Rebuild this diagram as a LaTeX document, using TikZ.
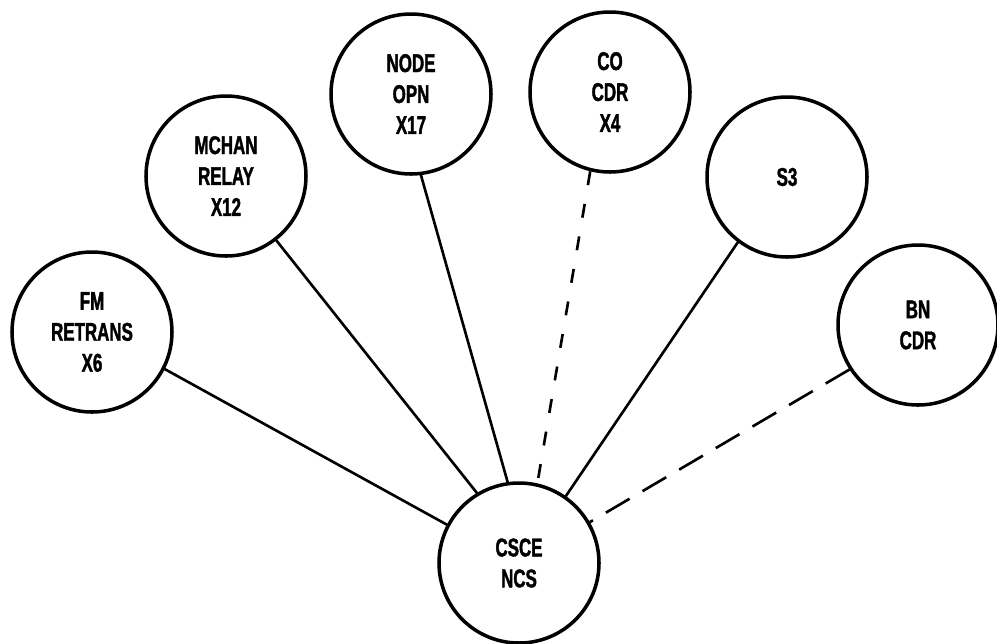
\documentclass[tikz,border=0pt]{standalone}
\usepackage{fontspec}
\newfontfamily\lblfont{Liberation Sans}[FakeStretch=0.66, BoldFont={Liberation Sans Bold}, BoldFeatures={FakeStretch=0.66, FakeBold=1.5}]
\begin{document}
\begin{tikzpicture}[line cap=round, line join=round, font=\lblfont\bfseries\fontsize{14.6}{17.6}\selectfont,
		stn/.style={draw, circle, line width=2pt, minimum size=3.2cm, inner sep=0pt, align=center},
		lnk/.style={line width=1.5pt},
		dlnk/.style={line width=1.5pt, line cap=butt, dash pattern=on 0.28cm off 0.38cm},
		blnk/.style={line width=1.5pt, line cap=butt, dash pattern=on 0.55cm off 0.3cm}]
	\useasboundingbox (0,0) rectangle (19.94,-12.86);
	\node[stn] (fm) at (1.84,-6.64) {FM\\RETRANS\\X6};
	\node[stn] (mchan) at (4.52,-3.52) {MCHAN\\RELAY\\X12};
	\node[stn] (node) at (8.22,-1.88) {NODE\\OPN\\X17};
	\node[stn] (co) at (12.20,-1.84) {CO\\CDR\\X4};
	\node[stn] (s3) at (15.74,-3.54) {S3};
	\node[stn] (bn) at (18.36,-6.50) {BN\\CDR};
	\node[stn] (csce) at (10.38,-11.26) {CSCE\\NCS};
	% links to the net control station
	\draw[lnk] (fm.-27.5) -- (csce.152.5);
	\draw[lnk] (mchan.-52) -- (csce.121);
	\draw[lnk] (node.277.5) -- (csce.98);
	\draw[dlnk] (co.256) -- (csce.77);
	\draw[lnk] (s3.233) -- (csce.55);
	\draw[blnk] (bn.213) -- (csce.30);
\end{tikzpicture}
\end{document}
